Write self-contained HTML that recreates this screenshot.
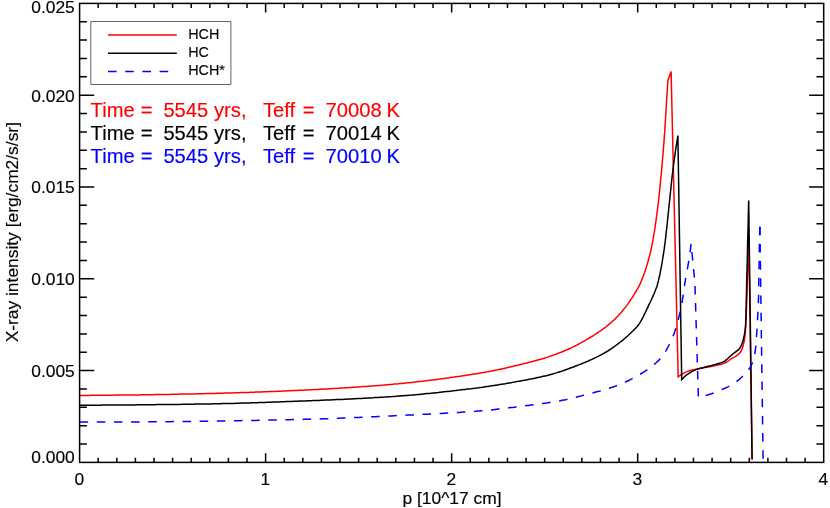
<!DOCTYPE html>
<html><head><meta charset="utf-8"><title>X-ray intensity</title>
<style>
html,body{margin:0;padding:0;background:#fff;}
svg{display:block;font-family:"Liberation Sans",sans-serif;}
</style></head>
<body>
<svg width="830" height="508" viewBox="0 0 830 508">
<rect x="0" y="0" width="830" height="508" fill="#fff"/>
<g fill="none" stroke-linejoin="miter" stroke-linecap="butt">
<polyline stroke="#ff0000" stroke-width="1.5" points="79.6,395.4 81.5,395.4 83.4,395.4 85.2,395.4 87.1,395.4 89.0,395.4 90.9,395.3 92.7,395.3 94.6,395.3 96.5,395.3 98.4,395.3 100.2,395.3 102.1,395.3 104.0,395.2 105.9,395.2 107.7,395.2 109.6,395.2 111.5,395.2 113.4,395.2 115.2,395.1 117.1,395.1 119.0,395.1 120.9,395.1 122.8,395.1 124.6,395.1 126.5,395.0 128.4,395.0 130.3,395.0 132.1,395.0 134.0,394.9 135.9,394.9 137.8,394.9 139.6,394.9 141.5,394.8 143.4,394.8 145.3,394.8 147.1,394.8 149.0,394.7 150.9,394.7 152.8,394.7 154.6,394.6 156.5,394.6 158.4,394.6 160.3,394.5 162.1,394.5 164.0,394.5 165.9,394.4 167.8,394.4 169.7,394.4 171.5,394.3 173.4,394.3 175.3,394.3 177.2,394.2 179.0,394.2 180.9,394.1 182.8,394.1 184.7,394.1 186.5,394.0 188.4,394.0 190.3,393.9 192.2,393.9 194.0,393.9 195.9,393.8 197.8,393.8 199.7,393.7 201.5,393.7 203.4,393.7 205.3,393.6 207.2,393.6 209.0,393.5 210.9,393.5 212.8,393.4 214.7,393.4 216.5,393.3 218.4,393.3 220.3,393.2 222.2,393.2 224.0,393.1 225.9,393.1 227.8,393.0 229.7,393.0 231.5,392.9 233.4,392.9 235.3,392.8 237.2,392.7 239.0,392.7 240.9,392.6 242.8,392.6 244.7,392.5 246.6,392.4 248.4,392.4 250.3,392.3 252.2,392.2 254.1,392.2 255.9,392.1 257.8,392.0 259.7,392.0 261.6,391.9 263.4,391.8 265.3,391.8 267.2,391.7 269.1,391.6 270.9,391.5 272.8,391.5 274.7,391.4 276.6,391.3 278.4,391.2 280.3,391.2 282.2,391.1 284.0,391.0 285.9,390.9 287.8,390.8 289.7,390.8 291.5,390.7 293.4,390.6 295.3,390.5 297.2,390.4 299.0,390.3 300.9,390.3 302.8,390.2 304.7,390.1 306.5,390.0 308.4,389.9 310.3,389.8 312.2,389.7 314.0,389.6 315.9,389.5 317.8,389.4 319.7,389.3 321.5,389.2 323.4,389.1 325.3,389.0 327.2,388.9 329.0,388.8 330.9,388.7 332.8,388.6 334.6,388.5 336.5,388.4 338.4,388.3 340.3,388.1 342.1,388.0 344.0,387.9 345.9,387.8 347.8,387.7 349.6,387.5 351.5,387.4 353.4,387.3 355.3,387.2 357.1,387.0 359.0,386.9 360.9,386.8 362.7,386.6 364.6,386.5 366.5,386.4 368.4,386.2 370.2,386.1 372.1,385.9 374.0,385.8 375.8,385.7 377.7,385.5 379.6,385.4 381.4,385.2 383.3,385.1 385.2,384.9 387.0,384.7 388.9,384.6 390.8,384.4 392.6,384.3 394.5,384.1 396.4,383.9 398.3,383.8 400.1,383.6 402.0,383.4 403.9,383.2 405.7,383.0 407.6,382.8 409.5,382.7 411.3,382.5 413.2,382.3 415.1,382.1 416.9,381.8 418.8,381.6 420.7,381.4 422.5,381.2 424.4,381.0 426.3,380.8 428.1,380.5 430.0,380.3 431.8,380.1 433.7,379.9 435.6,379.6 437.4,379.4 439.3,379.1 441.2,378.9 443.0,378.6 444.9,378.4 446.8,378.1 448.6,377.9 450.5,377.6 452.3,377.3 454.2,377.1 456.0,376.8 457.9,376.5 459.8,376.3 461.6,376.0 463.5,375.7 465.3,375.4 467.2,375.1 469.0,374.9 470.9,374.6 472.7,374.3 474.6,374.0 476.4,373.7 478.3,373.4 480.1,373.1 482.0,372.8 483.8,372.5 485.7,372.1 487.5,371.8 489.3,371.4 491.2,371.1 493.0,370.7 494.9,370.3 496.7,370.0 498.5,369.6 500.4,369.2 502.2,368.8 504.1,368.4 505.9,368.0 507.7,367.6 509.5,367.1 511.4,366.7 513.2,366.3 515.0,365.8 516.9,365.4 518.7,365.0 520.5,364.5 522.3,364.1 524.1,363.6 526.0,363.2 527.8,362.7 529.6,362.2 531.4,361.8 533.2,361.3 535.0,360.8 536.9,360.3 538.7,359.8 540.5,359.3 542.3,358.7 544.1,358.2 545.9,357.6 547.7,357.1 549.4,356.5 551.2,355.9 553.0,355.3 554.7,354.6 556.5,354.0 558.3,353.3 560.0,352.6 561.8,352.0 563.5,351.2 565.2,350.5 567.0,349.8 568.7,349.0 570.4,348.2 572.1,347.4 573.7,346.6 575.4,345.8 577.1,344.9 578.8,344.0 580.4,343.1 582.1,342.2 583.7,341.3 585.3,340.4 586.9,339.4 588.6,338.5 590.2,337.5 591.8,336.5 593.4,335.6 595.0,334.5 596.5,333.5 598.1,332.5 599.6,331.4 601.2,330.3 602.7,329.2 604.2,328.1 605.7,327.0 607.2,325.8 608.6,324.6 610.1,323.4 611.5,322.2 612.9,320.9 614.3,319.7 615.6,318.4 616.9,317.0 618.2,315.7 619.5,314.3 620.8,312.9 622.0,311.5 623.2,310.0 624.4,308.6 625.5,307.1 626.7,305.6 627.8,304.1 628.8,302.6 629.9,301.0 630.9,299.4 632.0,297.9 633.0,296.3 634.0,294.7 634.9,293.1 635.9,291.5 636.9,289.9 637.9,288.2 638.8,286.6 639.6,284.9 640.4,283.2 641.1,281.5 641.8,279.8 642.5,278.1 643.2,276.3 643.8,274.6 644.5,272.8 645.1,271.0 645.7,269.2 646.3,267.4 646.8,265.6 647.4,263.8 647.9,262.0 648.4,260.2 648.9,258.3 649.4,256.5 649.9,254.7 650.3,252.9 650.7,251.1 651.1,249.2 651.5,247.4 651.9,245.6 652.2,243.8 652.6,241.9 652.9,240.1 653.3,238.2 653.6,236.4 653.9,234.5 654.2,232.7 654.5,230.8 654.8,229.0 655.1,227.1 655.3,225.2 655.6,223.4 655.9,221.5 656.1,219.6 656.4,217.8 656.6,215.9 656.9,214.0 657.1,212.2 657.4,210.3 657.6,208.5 657.8,206.6 658.0,204.7 658.3,202.9 658.5,201.0 658.7,199.2 658.9,197.3 659.1,195.4 659.3,193.6 659.5,191.7 659.7,189.8 659.9,188.0 660.1,186.1 660.3,184.2 660.4,182.4 660.6,180.5 660.8,178.6 661.0,176.7 661.2,174.9 661.3,173.0 661.5,171.1 661.7,169.3 661.8,167.4 662.0,165.5 662.2,163.7 662.3,161.8 662.5,159.9 662.6,158.1 662.8,156.2 663.0,154.3 663.1,152.5 663.3,150.6 663.4,148.7 663.6,146.8 663.7,145.0 663.9,143.1 664.0,141.2 664.1,139.4 664.3,137.5 664.4,135.6 664.5,133.7 664.7,131.9 664.8,130.0 667.9,80.3 671.1,71.5 678.2,376.8 678.2,376.8 680.8,374.9 683.5,373.3 686.3,371.9 689.3,370.8 692.4,370.0 695.5,369.3 698.6,368.7 701.7,368.2 704.8,367.6 708.0,367.0 711.1,366.4 714.2,365.8 717.3,365.1 720.4,364.4 723.5,363.5 726.4,362.3 729.0,360.5 731.5,358.6 734.4,357.1 737.1,355.5 739.5,353.4 741.3,350.8 742.5,347.9 743.4,344.8 744.1,341.7 744.6,338.6 745.0,335.4 745.3,332.3 745.5,329.1 745.7,325.9 745.9,322.8 746.0,319.6 746.2,316.4 746.3,313.3 746.4,310.1 746.5,306.9 746.7,303.8 746.8,300.6 746.9,297.4 747.0,294.2 747.1,291.1 747.2,287.9 747.3,284.7 747.4,281.6 747.5,278.4 747.6,275.2 747.7,272.1 747.8,268.9 747.9,265.7 748.0,262.5 748.1,259.4 748.2,256.2 748.3,253.0 748.4,249.9 748.5,246.7 748.5,243.5 748.6,240.3 748.7,237.2 748.8,234.0 752.1,459.6"/>
<polyline stroke="#000" stroke-width="1.5" points="79.6,405.3 81.5,405.3 83.5,405.3 85.4,405.3 87.3,405.3 89.3,405.2 91.2,405.2 93.1,405.2 95.0,405.2 97.0,405.2 98.9,405.2 100.8,405.2 102.8,405.1 104.7,405.1 106.6,405.1 108.6,405.1 110.5,405.1 112.4,405.1 114.4,405.0 116.3,405.0 118.2,405.0 120.1,405.0 122.1,405.0 124.0,405.0 125.9,404.9 127.9,404.9 129.8,404.9 131.7,404.9 133.7,404.9 135.6,404.9 137.5,404.8 139.4,404.8 141.4,404.8 143.3,404.8 145.2,404.8 147.2,404.7 149.1,404.7 151.0,404.7 153.0,404.7 154.9,404.7 156.8,404.6 158.8,404.6 160.7,404.6 162.6,404.6 164.5,404.6 166.5,404.5 168.4,404.5 170.3,404.5 172.3,404.5 174.2,404.4 176.1,404.4 178.1,404.4 180.0,404.4 181.9,404.3 183.9,404.3 185.8,404.3 187.7,404.3 189.6,404.2 191.6,404.2 193.5,404.2 195.4,404.1 197.4,404.1 199.3,404.1 201.2,404.0 203.2,404.0 205.1,404.0 207.0,404.0 208.9,403.9 210.9,403.9 212.8,403.8 214.7,403.8 216.7,403.8 218.6,403.7 220.5,403.7 222.5,403.6 224.4,403.6 226.3,403.6 228.2,403.5 230.2,403.5 232.1,403.4 234.0,403.4 236.0,403.3 237.9,403.3 239.8,403.2 241.8,403.1 243.7,403.1 245.6,403.0 247.5,403.0 249.5,402.9 251.4,402.8 253.3,402.8 255.3,402.7 257.2,402.7 259.1,402.6 261.1,402.5 263.0,402.5 264.9,402.4 266.8,402.3 268.8,402.3 270.7,402.2 272.6,402.1 274.6,402.1 276.5,402.0 278.4,401.9 280.4,401.8 282.3,401.8 284.2,401.7 286.1,401.6 288.1,401.6 290.0,401.5 291.9,401.4 293.9,401.3 295.8,401.3 297.7,401.2 299.6,401.1 301.6,401.0 303.5,401.0 305.4,400.9 307.4,400.8 309.3,400.7 311.2,400.7 313.2,400.6 315.1,400.5 317.0,400.4 318.9,400.4 320.9,400.3 322.8,400.2 324.7,400.1 326.7,400.0 328.6,400.0 330.5,399.9 332.4,399.8 334.4,399.7 336.3,399.6 338.2,399.5 340.2,399.4 342.1,399.4 344.0,399.3 346.0,399.2 347.9,399.1 349.8,399.0 351.7,398.9 353.7,398.8 355.6,398.7 357.5,398.6 359.5,398.5 361.4,398.4 363.3,398.3 365.2,398.2 367.2,398.1 369.1,398.0 371.0,397.9 372.9,397.8 374.9,397.6 376.8,397.5 378.7,397.4 380.7,397.3 382.6,397.2 384.5,397.1 386.4,396.9 388.4,396.8 390.3,396.7 392.2,396.6 394.1,396.4 396.1,396.3 398.0,396.1 399.9,396.0 401.8,395.8 403.8,395.7 405.7,395.5 407.6,395.4 409.5,395.2 411.4,395.1 413.4,394.9 415.3,394.7 417.2,394.6 419.1,394.4 421.1,394.2 423.0,394.0 424.9,393.8 426.8,393.6 428.8,393.4 430.7,393.3 432.6,393.1 434.5,392.9 436.5,392.7 438.4,392.5 440.3,392.2 442.2,392.0 444.1,391.8 446.1,391.6 448.0,391.4 449.9,391.2 451.8,391.0 453.7,390.7 455.7,390.5 457.6,390.3 459.5,390.1 461.4,389.8 463.3,389.6 465.2,389.4 467.2,389.1 469.1,388.9 471.0,388.7 472.9,388.4 474.8,388.2 476.7,387.9 478.6,387.7 480.5,387.4 482.5,387.2 484.4,386.9 486.3,386.6 488.2,386.4 490.1,386.1 492.0,385.8 493.9,385.5 495.8,385.2 497.7,384.9 499.6,384.6 501.6,384.3 503.5,384.0 505.4,383.7 507.3,383.3 509.2,383.0 511.1,382.7 513.0,382.3 514.9,382.0 516.8,381.6 518.7,381.3 520.6,380.9 522.5,380.6 524.4,380.2 526.3,379.9 528.2,379.5 530.1,379.1 532.0,378.8 533.9,378.4 535.7,378.0 537.6,377.6 539.5,377.2 541.4,376.8 543.3,376.3 545.2,375.9 547.1,375.5 548.9,375.0 550.8,374.5 552.6,374.0 554.5,373.4 556.3,372.9 558.2,372.3 560.0,371.7 561.9,371.1 563.7,370.5 565.5,369.8 567.3,369.2 569.1,368.5 571.0,367.8 572.8,367.2 574.6,366.5 576.4,365.8 578.2,365.1 580.0,364.4 581.8,363.7 583.6,362.9 585.4,362.2 587.2,361.4 588.9,360.7 590.7,359.9 592.5,359.1 594.2,358.3 596.0,357.4 597.7,356.6 599.4,355.7 601.1,354.8 602.8,353.9 604.5,353.0 606.1,352.0 607.8,351.0 609.4,350.0 611.0,348.9 612.6,347.8 614.2,346.7 615.8,345.5 617.3,344.4 618.8,343.2 620.4,342.0 621.9,340.8 623.4,339.6 624.9,338.3 626.3,337.1 627.8,335.8 629.2,334.5 630.6,333.2 632.0,331.8 633.4,330.5 634.8,329.1 636.1,327.7 637.4,326.3 638.6,324.8 639.6,323.2 640.6,321.6 641.6,319.9 642.5,318.2 643.4,316.5 644.2,314.7 645.1,313.0 645.9,311.2 646.7,309.4 647.6,307.7 648.4,305.9 649.2,304.2 650.1,302.5 650.9,300.7 651.7,299.0 652.5,297.2 653.3,295.4 654.1,293.7 654.8,291.9 655.5,290.1 656.2,288.3 656.9,286.5 657.4,284.6 657.9,282.8 658.4,280.9 658.8,279.0 659.2,277.1 659.7,275.3 660.1,273.4 660.4,271.5 660.8,269.6 661.2,267.7 661.5,265.8 661.9,263.9 662.2,262.0 662.5,260.0 662.8,258.1 663.1,256.2 663.4,254.3 663.7,252.4 664.0,250.5 664.3,248.6 664.5,246.7 664.8,244.8 665.0,242.8 665.3,240.9 665.5,239.0 665.7,237.1 665.9,235.2 666.1,233.3 666.3,231.3 666.6,229.4 666.8,227.5 667.0,225.6 667.2,223.7 667.4,221.7 667.6,219.8 667.8,217.9 668.0,216.0 668.2,214.0 668.4,212.1 668.6,210.2 668.8,208.3 669.0,206.4 669.2,204.4 669.4,202.5 669.6,200.6 669.8,198.7 670.0,196.8 670.2,194.8 670.4,192.9 670.6,191.0 670.8,189.1 671.0,187.2 671.2,185.2 671.4,183.3 671.6,181.4 671.8,179.5 672.0,177.6 672.2,175.6 672.5,173.7 672.7,171.8 672.9,169.9 673.2,168.0 673.4,166.1 673.6,164.1 673.9,162.2 674.2,160.3 674.4,158.4 674.7,156.5 675.0,154.6 675.2,152.7 675.5,150.8 675.8,148.9 676.1,146.9 676.4,145.0 676.7,143.1 677.0,141.2 677.3,139.3 677.6,137.4 677.9,135.5 681.7,379.7 681.7,379.7 684.2,377.0 687.0,374.7 690.1,372.7 693.3,370.9 696.7,369.4 700.1,368.3 703.7,367.4 707.3,366.6 710.9,365.8 714.4,364.8 717.9,363.7 721.4,362.6 724.8,361.1 727.6,358.8 730.2,356.2 733.0,353.9 735.9,351.6 738.9,349.4 740.9,346.4 742.3,343.0 743.3,339.5 744.1,335.9 744.8,332.3 745.3,328.6 745.6,325.0 745.7,321.3 745.9,317.7 746.0,314.0 746.1,310.3 746.2,306.7 746.2,303.0 746.3,299.3 746.4,295.7 746.5,292.0 746.6,288.3 746.6,284.7 746.7,281.0 746.8,277.4 746.9,273.7 747.0,270.0 747.1,266.4 747.2,262.7 747.3,259.0 747.4,255.4 747.5,251.7 747.5,248.0 747.6,244.4 747.7,240.7 747.8,237.0 747.9,233.4 748.0,229.7 748.1,226.1 748.2,222.4 748.3,218.7 748.3,215.1 748.4,211.4 748.5,207.7 748.6,204.1 748.7,200.4 752.1,459.6"/>
<polyline stroke="#0000ff" stroke-width="1.5" stroke-dasharray="8.579 8.579" points="79.6,422.1 81.4,422.1 83.2,422.1 85.0,422.1 86.7,422.1 88.5,422.1 90.3,422.1 92.1,422.1 93.9,422.1 95.7,422.1 97.4,422.1 99.2,422.1 101.0,422.1 102.8,422.1 104.6,422.1 106.4,422.0 108.1,422.0 109.9,422.0 111.7,422.0 113.5,422.0 115.3,422.0 117.1,422.0 118.8,422.0 120.6,422.0 122.4,422.0 124.2,422.0 126.0,422.0 127.8,422.0 129.5,422.0 131.3,421.9 133.1,421.9 134.9,421.9 136.7,421.9 138.5,421.9 140.3,421.9 142.0,421.9 143.8,421.9 145.6,421.9 147.4,421.9 149.2,421.8 151.0,421.8 152.7,421.8 154.5,421.8 156.3,421.8 158.1,421.8 159.9,421.8 161.7,421.7 163.4,421.7 165.2,421.7 167.0,421.7 168.8,421.7 170.6,421.7 172.4,421.6 174.1,421.6 175.9,421.6 177.7,421.6 179.5,421.6 181.3,421.5 183.1,421.5 184.8,421.5 186.6,421.5 188.4,421.4 190.2,421.4 192.0,421.4 193.8,421.4 195.5,421.4 197.3,421.3 199.1,421.3 200.9,421.3 202.7,421.3 204.5,421.2 206.3,421.2 208.0,421.2 209.8,421.2 211.6,421.1 213.4,421.1 215.2,421.1 217.0,421.1 218.7,421.0 220.5,421.0 222.3,421.0 224.1,421.0 225.9,420.9 227.7,420.9 229.4,420.9 231.2,420.8 233.0,420.8 234.8,420.8 236.6,420.7 238.4,420.7 240.1,420.7 241.9,420.6 243.7,420.6 245.5,420.6 247.3,420.5 249.1,420.5 250.8,420.5 252.6,420.4 254.4,420.4 256.2,420.4 258.0,420.3 259.8,420.3 261.5,420.3 263.3,420.2 265.1,420.2 266.9,420.2 268.7,420.1 270.5,420.1 272.2,420.1 274.0,420.0 275.8,420.0 277.6,419.9 279.4,419.9 281.2,419.9 282.9,419.8 284.7,419.8 286.5,419.8 288.3,419.7 290.1,419.7 291.9,419.6 293.6,419.6 295.4,419.6 297.2,419.5 299.0,419.5 300.8,419.4 302.6,419.4 304.3,419.3 306.1,419.3 307.9,419.2 309.7,419.2 311.5,419.1 313.3,419.1 315.0,419.0 316.8,419.0 318.6,418.9 320.4,418.9 322.2,418.8 324.0,418.8 325.7,418.7 327.5,418.7 329.3,418.6 331.1,418.5 332.9,418.5 334.7,418.4 336.4,418.4 338.2,418.3 340.0,418.2 341.8,418.1 343.6,418.1 345.4,418.0 347.1,417.9 348.9,417.9 350.7,417.8 352.5,417.7 354.3,417.6 356.0,417.6 357.8,417.5 359.6,417.4 361.4,417.3 363.2,417.3 365.0,417.2 366.7,417.1 368.5,417.0 370.3,416.9 372.1,416.8 373.9,416.8 375.7,416.7 377.4,416.6 379.2,416.5 381.0,416.4 382.8,416.3 384.6,416.3 386.3,416.2 388.1,416.1 389.9,416.0 391.7,415.9 393.5,415.8 395.3,415.7 397.0,415.6 398.8,415.6 400.6,415.5 402.4,415.4 404.2,415.3 405.9,415.2 407.7,415.1 409.5,415.0 411.3,415.0 413.1,414.9 414.9,414.8 416.6,414.7 418.4,414.6 420.2,414.5 422.0,414.4 423.8,414.3 425.5,414.2 427.3,414.2 429.1,414.1 430.9,414.0 432.7,413.9 434.5,413.8 436.2,413.7 438.0,413.6 439.8,413.5 441.6,413.4 443.4,413.3 445.2,413.2 446.9,413.1 448.7,413.0 450.5,412.9 452.3,412.8 454.1,412.7 455.8,412.6 457.6,412.5 459.4,412.4 461.2,412.2 463.0,412.1 464.7,412.0 466.5,411.9 468.3,411.8 470.1,411.6 471.9,411.5 473.6,411.4 475.4,411.3 477.2,411.1 479.0,411.0 480.7,410.8 482.5,410.7 484.3,410.5 486.1,410.4 487.8,410.2 489.6,410.0 491.4,409.9 493.2,409.7 494.9,409.5 496.7,409.3 498.5,409.1 500.3,408.9 502.0,408.7 503.8,408.5 505.6,408.2 507.4,408.0 509.1,407.8 510.9,407.6 512.7,407.4 514.4,407.2 516.2,406.9 518.0,406.7 519.7,406.5 521.5,406.3 523.3,406.1 525.1,405.8 526.8,405.6 528.6,405.4 530.4,405.1 532.1,404.9 533.9,404.7 535.7,404.4 537.5,404.2 539.2,404.0 541.0,403.7 542.8,403.5 544.5,403.2 546.3,403.0 548.1,402.7 549.8,402.4 551.6,402.1 553.3,401.9 555.1,401.6 556.9,401.3 558.6,401.0 560.4,400.7 562.1,400.3 563.9,400.0 565.6,399.7 567.4,399.3 569.1,398.9 570.8,398.5 572.6,398.1 574.3,397.7 576.0,397.3 577.8,396.8 579.5,396.3 581.2,395.9 582.9,395.4 584.7,394.9 586.4,394.5 588.1,394.0 589.8,393.6 591.6,393.1 593.3,392.7 595.0,392.2 596.8,391.8 598.5,391.3 600.2,390.9 601.9,390.4 603.7,389.9 605.4,389.4 607.1,388.9 608.8,388.4 610.5,387.8 612.2,387.3 613.8,386.7 615.5,386.1 617.2,385.5 618.9,384.8 620.5,384.1 622.2,383.5 623.8,382.7 625.5,382.0 627.1,381.2 628.7,380.5 630.2,379.7 631.8,378.9 633.4,378.0 635.0,377.2 636.6,376.3 638.1,375.4 639.7,374.5 641.3,373.5 642.8,372.6 644.4,371.6 645.9,370.6 647.4,369.6 648.9,368.5 650.4,367.5 651.8,366.4 653.2,365.3 654.6,364.1 655.9,363.0 657.2,361.8 658.5,360.6 659.6,359.4 660.8,358.1 661.9,356.8 663.0,355.3 664.0,353.8 665.0,352.3 665.9,350.8 666.8,349.2 667.7,347.6 668.5,346.1 669.3,344.5 670.1,342.9 670.9,341.3 671.6,339.6 672.3,338.0 673.0,336.3 673.7,334.6 674.3,333.0 674.9,331.3 675.4,329.6 676.0,327.9 676.5,326.2 677.0,324.5 677.5,322.8 677.9,321.1 678.4,319.3 678.8,317.6 679.2,315.8 679.6,314.1 680.0,312.4 680.4,310.6 680.8,308.9 681.1,307.1 681.4,305.4 681.8,303.6 682.1,301.9 682.4,300.1 682.7,298.3 683.0,296.6 683.2,294.8 683.5,293.1 683.7,291.3 684.0,289.5 684.2,287.8 684.5,286.0 684.7,284.2 685.0,282.5 685.3,280.7 685.5,278.9 685.8,277.2 686.1,275.4 686.5,273.7 686.8,271.9 687.1,270.2 687.5,268.4 687.8,266.7 688.1,264.9 688.4,263.1 688.7,261.4 689.0,259.6 689.3,257.9 689.5,256.1 689.8,254.3 690.0,252.6 690.2,250.8 690.5,249.0 690.7,247.2 690.9,245.5 691.1,243.7"/>
<polyline stroke="#0000ff" stroke-width="1.5" stroke-dasharray="8.498 8.498" stroke-dashoffset="8.498" points="691.1,243.7 694.9,283.0 698.4,397.4 698.4,397.4 701.8,396.6 705.1,395.7 708.4,394.8 711.6,393.7 714.8,392.4 718.0,391.1 721.2,389.8 724.4,388.5 727.5,387.1 730.6,385.5 733.5,383.7 736.3,381.7 739.0,379.6 741.6,377.3 744.1,374.9 746.3,372.3 748.6,369.6 750.6,366.8 752.0,363.8 753.2,360.5 754.1,357.2 754.8,353.8 755.3,350.4 755.7,347.0 756.0,343.6 756.3,340.1 756.5,336.7 756.7,333.2 757.0,329.8 757.2,326.4 757.4,323.0 757.6,319.5 757.7,316.1 757.9,312.6 758.1,309.2 758.3,305.8 758.4,302.3 758.5,298.9 758.6,295.5 758.7,292.0 758.7,288.6 758.8,285.2 758.8,281.7 758.9,278.3 758.9,274.8 759.0,271.4 759.0,268.0 759.1,264.5 759.1,261.1 759.2,257.6 759.2,254.2 759.3,250.8 759.4,247.3 759.4,243.9 759.5,240.5 759.6,237.0 759.7,233.6 759.8,230.1 759.9,226.7"/>
<polyline stroke="#0000ff" stroke-width="1.5" stroke-dasharray="8.6 8.6" points="759.9,226.7 761.1,315.0 763.1,458.8"/>
</g>
<g fill="none" stroke="#000" stroke-width="1.5">
<rect x="79.6" y="3.4" width="744.1" height="459.0"/>
<path d="M98.20 462.4 v-4.6 M98.20 3.4 v4.6 M116.81 462.4 v-4.6 M116.81 3.4 v4.6 M135.41 462.4 v-4.6 M135.41 3.4 v4.6 M154.01 462.4 v-4.6 M154.01 3.4 v4.6 M172.61 462.4 v-4.6 M172.61 3.4 v4.6 M191.21 462.4 v-4.6 M191.21 3.4 v4.6 M209.82 462.4 v-4.6 M209.82 3.4 v4.6 M228.42 462.4 v-4.6 M228.42 3.4 v4.6 M247.02 462.4 v-4.6 M247.02 3.4 v4.6 M265.62 462.4 v-9.2 M265.62 3.4 v9.2 M284.23 462.4 v-4.6 M284.23 3.4 v4.6 M302.83 462.4 v-4.6 M302.83 3.4 v4.6 M321.43 462.4 v-4.6 M321.43 3.4 v4.6 M340.03 462.4 v-4.6 M340.03 3.4 v4.6 M358.64 462.4 v-4.6 M358.64 3.4 v4.6 M377.24 462.4 v-4.6 M377.24 3.4 v4.6 M395.84 462.4 v-4.6 M395.84 3.4 v4.6 M414.45 462.4 v-4.6 M414.45 3.4 v4.6 M433.05 462.4 v-4.6 M433.05 3.4 v4.6 M451.65 462.4 v-9.2 M451.65 3.4 v9.2 M470.25 462.4 v-4.6 M470.25 3.4 v4.6 M488.86 462.4 v-4.6 M488.86 3.4 v4.6 M507.46 462.4 v-4.6 M507.46 3.4 v4.6 M526.06 462.4 v-4.6 M526.06 3.4 v4.6 M544.66 462.4 v-4.6 M544.66 3.4 v4.6 M563.26 462.4 v-4.6 M563.26 3.4 v4.6 M581.87 462.4 v-4.6 M581.87 3.4 v4.6 M600.47 462.4 v-4.6 M600.47 3.4 v4.6 M619.07 462.4 v-4.6 M619.07 3.4 v4.6 M637.68 462.4 v-9.2 M637.68 3.4 v9.2 M656.28 462.4 v-4.6 M656.28 3.4 v4.6 M674.88 462.4 v-4.6 M674.88 3.4 v4.6 M693.48 462.4 v-4.6 M693.48 3.4 v4.6 M712.09 462.4 v-4.6 M712.09 3.4 v4.6 M730.69 462.4 v-4.6 M730.69 3.4 v4.6 M749.29 462.4 v-4.6 M749.29 3.4 v4.6 M767.89 462.4 v-4.6 M767.89 3.4 v4.6 M786.50 462.4 v-4.6 M786.50 3.4 v4.6 M805.10 462.4 v-4.6 M805.10 3.4 v4.6 M79.6 444.04 h7.3 M823.7 444.04 h-7.3 M79.6 425.68 h7.3 M823.7 425.68 h-7.3 M79.6 407.32 h7.3 M823.7 407.32 h-7.3 M79.6 388.96 h7.3 M823.7 388.96 h-7.3 M79.6 370.60 h14.6 M823.7 370.60 h-14.6 M79.6 352.24 h7.3 M823.7 352.24 h-7.3 M79.6 333.88 h7.3 M823.7 333.88 h-7.3 M79.6 315.52 h7.3 M823.7 315.52 h-7.3 M79.6 297.16 h7.3 M823.7 297.16 h-7.3 M79.6 278.80 h14.6 M823.7 278.80 h-14.6 M79.6 260.44 h7.3 M823.7 260.44 h-7.3 M79.6 242.08 h7.3 M823.7 242.08 h-7.3 M79.6 223.72 h7.3 M823.7 223.72 h-7.3 M79.6 205.36 h7.3 M823.7 205.36 h-7.3 M79.6 187.00 h14.6 M823.7 187.00 h-14.6 M79.6 168.64 h7.3 M823.7 168.64 h-7.3 M79.6 150.28 h7.3 M823.7 150.28 h-7.3 M79.6 131.92 h7.3 M823.7 131.92 h-7.3 M79.6 113.56 h7.3 M823.7 113.56 h-7.3 M79.6 95.20 h14.6 M823.7 95.20 h-14.6 M79.6 76.84 h7.3 M823.7 76.84 h-7.3 M79.6 58.48 h7.3 M823.7 58.48 h-7.3 M79.6 40.12 h7.3 M823.7 40.12 h-7.3 M79.6 21.76 h7.3 M823.7 21.76 h-7.3"/>
</g>
<g font-size="17.4" fill="#000" stroke="#000" stroke-width="0.15">
<text x="74.8" y="462.6" text-anchor="end">0.000</text>
<text x="74.8" y="376.9" text-anchor="end">0.005</text>
<text x="74.8" y="285.1" text-anchor="end">0.010</text>
<text x="74.8" y="193.3" text-anchor="end">0.015</text>
<text x="74.8" y="101.5" text-anchor="end">0.020</text>
<text x="74.8" y="13.4" text-anchor="end">0.025</text>
<text x="79.3" y="484.5" text-anchor="middle">0</text>
<text x="265.3" y="484.5" text-anchor="middle">1</text>
<text x="451.3" y="484.5" text-anchor="middle">2</text>
<text x="637.4" y="484.5" text-anchor="middle">3</text>
<text x="823.4" y="484.5" text-anchor="middle">4</text>

<text x="452" y="503.6" text-anchor="middle">p [10^17 cm]</text>
<text transform="translate(17.7 232.2) rotate(-90)" text-anchor="middle">X-ray intensity [erg/cm2/s/sr]</text>
</g>
<rect x="90.8" y="21.5" width="140.1" height="63" fill="#fff" stroke="#333" stroke-width="0.75" stroke-linejoin="round"/>
<g fill="none" stroke-width="1.5">
<path d="M108 34.9 H176.8" stroke="#ff0000"/>
<path d="M108 53.2 H176.8" stroke="#000"/>
<path d="M108 71.5 H168.4" stroke="#0000ff" stroke-dasharray="8.6 8.6"/>
</g>
<g font-size="14.4" fill="#000" stroke="#000" stroke-width="0.12">
<text x="188.2" y="38.9">HCH</text>
<text x="188.2" y="57.2">HC</text>
<text x="188.2" y="75.4">HCH*</text>
</g>
<text y="116.7" fill="#ff0000" font-size="20.2" stroke="#ff0000" stroke-width="0.15"><tspan x="90.6">Time</tspan><tspan x="140.7">=</tspan><tspan x="163.4">5545</tspan><tspan x="214">yrs,</tspan><tspan x="263">Teff</tspan><tspan x="302.8">=</tspan><tspan x="325.6">70008</tspan><tspan x="386.6">K</tspan></text>
<text y="139.7" fill="#000000" font-size="20.2" stroke="#000000" stroke-width="0.15"><tspan x="90.6">Time</tspan><tspan x="140.7">=</tspan><tspan x="163.4">5545</tspan><tspan x="214">yrs,</tspan><tspan x="263">Teff</tspan><tspan x="302.8">=</tspan><tspan x="325.6">70014</tspan><tspan x="386.6">K</tspan></text>
<text y="162.8" fill="#0000ff" font-size="20.2" stroke="#0000ff" stroke-width="0.15"><tspan x="90.6">Time</tspan><tspan x="140.7">=</tspan><tspan x="163.4">5545</tspan><tspan x="214">yrs,</tspan><tspan x="263">Teff</tspan><tspan x="302.8">=</tspan><tspan x="325.6">70010</tspan><tspan x="386.6">K</tspan></text>

</svg>
</body></html>
